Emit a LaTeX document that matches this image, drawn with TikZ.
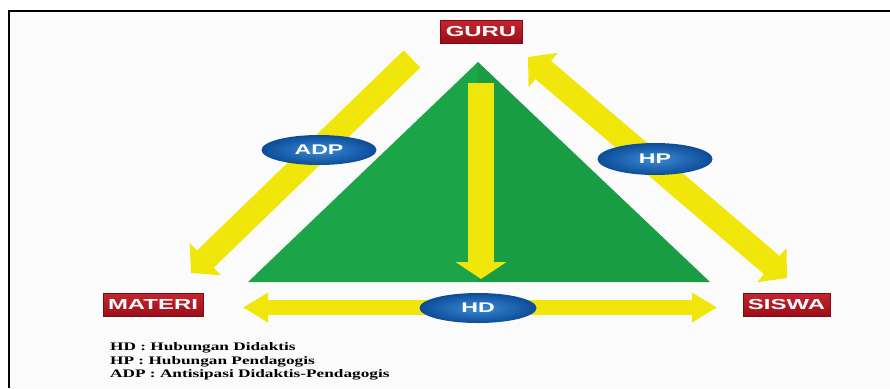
\documentclass[tikz,border=0pt]{standalone}
\usepackage{fontspec}
\setmainfont{Liberation Serif}
\newfontfamily\boxfont{Liberation Sans}
\usetikzlibrary{arrows.meta,shapes.geometric}
\definecolor{ylw}{HTML}{F0E60A}
\definecolor{grn}{HTML}{1CA449}
\definecolor{grndark}{HTML}{189C44}
\definecolor{redtop}{HTML}{C42630}
\definecolor{redbot}{HTML}{9C0E18}
\definecolor{bluein}{HTML}{3B8AD6}
\definecolor{blueout}{HTML}{0C4C98}
\definecolor{bgc}{HTML}{FBFBFB}
\tikzset{
  redbox/.style={rectangle, top color=redtop, bottom color=redbot, draw=redbot!80!black, line width=0.6pt,
    minimum height=23pt, inner sep=0pt, text=white, font=\boxfont\bfseries\fontsize{14.5}{14.5}\selectfont},
  blueoval/.style={ellipse, inner color=bluein, outer color=blueout, minimum height=30pt, minimum width=115pt,
    inner sep=0pt, text=white, font=\boxfont\bfseries\fontsize{14}{14}\selectfont},
  yarrow/.style={draw=ylw, line cap=butt},
  legend/.style={anchor=base west, inner sep=0pt, font=\bfseries\fontsize{11.5}{11.5}\selectfont}
}
\newcommand{\wide}[1]{\scalebox{1.65}[1]{#1}}
\newcommand{\legwide}[1]{\scalebox{1.5}[1]{#1}}
\begin{document}
\begin{tikzpicture}[x=1pt,y=-1pt]
\useasboundingbox (0,0) rectangle (890,388);
\fill[white] (0,0) rectangle (890,388);
\fill[bgc] (9,11) rectangle (890,388);
\draw[line width=2pt] (9,388) -- (9,11) -- (890,11);

% green triangle
\fill[grn] (478,62) -- (248,282) -- (478,282) -- cycle;
\fill[grndark] (478,62) -- (710,282) -- (478,282) -- cycle;

% named nodes
\node[redbox, minimum width=82pt] (guru) at (481,31.5) {\wide{GURU}};
\node[redbox, minimum width=100pt] (materi) at (153,304.5) {\wide{MATERI}};
\node[redbox, minimum width=87pt] (siswa) at (786.5,304.5) {\wide{SISWA}};

% arrow end points
\coordinate (vA) at (481,83);
\coordinate (vB) at (481,279);
\coordinate (lA) at (412,59);
\coordinate (lB) at (191,273);
\coordinate (rA) at (528,57);
\coordinate (rB) at (787,278);
\coordinate (hA) at (243,307.5);
\coordinate (hB) at (717,307.5);

% arrows
\draw[yarrow, line width=26pt, -{Triangle[width=50pt,length=17pt]}] (vA) -- (vB);
\draw[yarrow, line width=24pt, -{Triangle[width=44pt,length=20pt]}] (lA) -- (lB);
\draw[yarrow, line width=24pt, {Triangle[width=44pt,length=20pt]}-{Triangle[width=44pt,length=20pt]}] (rA) -- (rB);
\draw[yarrow, line width=15pt, {Triangle[width=28pt,length=25pt]}-{Triangle[width=28pt,length=25pt]}] (hA) -- (hB);

% ovals
\node[blueoval] (adp) at (319,150) {\wide{ADP}};
\node[blueoval, minimum height=32pt] (hp) at (655,159) {\wide{HP}};
\node[blueoval, minimum width=117pt] (hd) at (478,308) {\wide{HD}};

% legend
\node[legend] (l1) at (110,350.5) {\legwide{HD : Hubungan Didaktis}};
\node[legend] (l2) at (110,364.2) {\legwide{HP : Hubungan Pendagogis}};
\node[legend] (l3) at (110,377.9) {\legwide{ADP : Antisipasi Didaktis-Pendagogis}};
\end{tikzpicture}
\end{document}
